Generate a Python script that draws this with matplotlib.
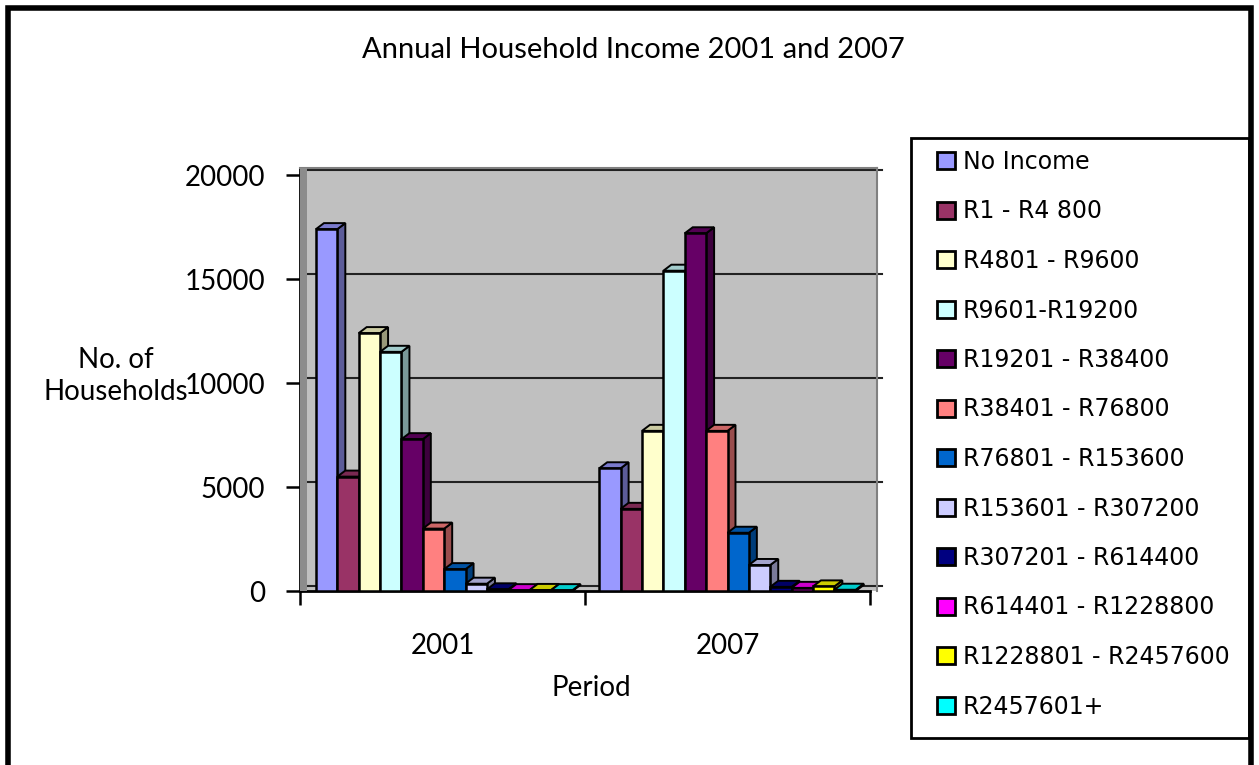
import matplotlib
matplotlib.use("Agg")
import matplotlib.pyplot as plt
import matplotlib.patches as patches
import matplotlib.transforms as mtransforms
import matplotlib.colors as mcolors
import numpy as np

periods = ["2001", "2007"]
brackets = ["No Income", "R1 - R4 800", "R4801 - R9600", "R9601-R19200",
            "R19201 - R38400", "R38401 - R76800", "R76801 - R153600",
            "R153601 - R307200", "R307201 - R614400", "R614401 - R1228800",
            "R1228801 - R2457600", "R2457601+"]
hh_2001 = [17400, 5500, 12400, 11500, 7300, 3000, 1050, 350, 80, 40, 50, 40]
hh_2007 = [5900, 3950, 7700, 15400, 17200, 7700, 2800, 1250, 200, 150, 220, 60]
colors = ["#9999FF", "#993366", "#FFFFCC", "#CCFFFF", "#660066", "#FF8080",
          "#0066CC", "#CCCCFF", "#000080", "#FF00FF", "#FFFF00", "#00FFFF"]
yticks = [0, 5000, 10000, 15000, 20000]

W, H = 1259, 765
fig = plt.figure(figsize=(W / 100, H / 100), dpi=100)
fig.patch.set_facecolor("white")

# outer frame
fr = patches.Rectangle((8 / W, -0.02), (W - 16) / W, (H - 8) / H + 0.02,
                       transform=fig.transFigure, fill=False,
                       edgecolor="black", linewidth=4)
fig.patches.append(fr)

ax = fig.add_axes([300 / W, 174 / H, 577 / W, 423 / H])
ax.set_facecolor("#C0C0C0")
ax.set_xlim(-0.5, 1.5 + 7 / 285)
ax.set_ylim(0, 20340)

# fake 3d: front face + side + top
dx = 0.028
dy = 290
w = 0.075
vals = [hh_2001, hh_2007]
for g, c in enumerate([0.006, 1.0]):
    left0 = c - 0.45
    for i, v in enumerate(vals[g]):
        x0 = left0 + i * w
        z = 10 + i
        col = np.array(mcolors.to_rgb(colors[i]))
        side = tuple(col * 0.6)
        top = tuple(col * 0.8)
        ax.bar(x0, v, width=w, align="edge", color=colors[i],
               edgecolor="black", linewidth=1.8, zorder=z + 0.2)
        ax.add_patch(patches.Polygon([(x0 + w, 0), (x0 + w + dx, dy),
                                      (x0 + w + dx, v + dy), (x0 + w, v)],
                                     closed=True, facecolor=side,
                                     edgecolor="black", linewidth=1.4, zorder=z))
        ax.add_patch(patches.Polygon([(x0, v), (x0 + dx, v + dy),
                                      (x0 + w + dx, v + dy), (x0 + w, v)],
                                     closed=True, facecolor=top,
                                     edgecolor="black", linewidth=1.4, zorder=z + 0.1))

# back wall gridlines, pushed back a little
off = mtransforms.ScaledTranslation(5 / 100, 5 / 100, fig.dpi_scale_trans)
for t in yticks:
    ax.plot([0, 1], [t, t], transform=ax.get_yaxis_transform() + off,
            color="#222222", linewidth=1.5, zorder=2, clip_on=False)

# left wall strip
ax.add_patch(patches.Rectangle((0, 0), 7 / 577, 1, transform=ax.transAxes,
                               facecolor="#8C8C8C", edgecolor="none", zorder=3))

for s in ["top", "right"]:
    ax.spines[s].set_color("#808080")
    ax.spines[s].set_linewidth(1.5)
for s in ["left", "bottom"]:
    ax.spines[s].set_color("black")
    ax.spines[s].set_linewidth(2)
ax.spines["bottom"].set_bounds(-0.5, 1.5)

ax.set_yticks(yticks)
ax.set_yticklabels([str(t) for t in yticks], fontsize=20, family="Lato")
ax.tick_params(axis="y", length=10, width=1.8, pad=15)

ax.set_xticks([0, 1])
ax.set_xticklabels(periods, fontsize=20, family="Lato")
ax.set_xticks([-0.5, 0.5, 1.5], minor=True)
ax.tick_params(axis="x", which="major", length=0, pad=30)
ax.tick_params(axis="x", which="minor", length=10, width=1.8)

fig.text(633 / W, 1 - 50 / H, "Annual Household Income 2001 and 2007",
         ha="center", va="center", fontsize=21, family="Lato")
fig.text(116 / W, 1 - 376 / H, "No. of\nHouseholds", ha="center", va="center",
         fontsize=20, family="Lato", linespacing=1.3)
fig.text(591 / W, 1 - 688 / H, "Period", ha="center", va="center",
         fontsize=20, family="Lato")

# legend box drawn by hand, entries by fig.legend
lbox = patches.Rectangle((911 / W, 1 - 738 / H), 338 / W, 600 / H,
                         transform=fig.transFigure, fill=False,
                         edgecolor="black", linewidth=2)
fig.patches.append(lbox)
handles = [patches.Patch(facecolor=colors[i], edgecolor="black", linewidth=2)
           for i in range(len(brackets))]
leg = fig.legend(handles, brackets, loc="upper left",
                 bbox_to_anchor=(937 / W, 1 - 150 / H), bbox_transform=fig.transFigure,
                 prop={"family": "DejaVu Sans", "size": 17},
                 handlelength=0.75, handleheight=0.75, handletextpad=0.35,
                 labelspacing=1.08, borderpad=0, borderaxespad=0,
                 frameon=False)

fig.savefig("out.png", dpi=100, facecolor="white")
